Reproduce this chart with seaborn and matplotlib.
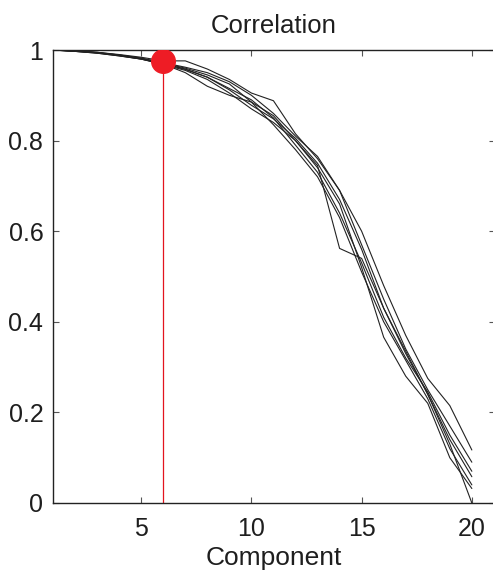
import numpy as np
import pandas as pd
import seaborn as sns
import matplotlib
matplotlib.use("Agg")
import matplotlib.pyplot as plt

# correlation per component, one list per run
components = list(range(1, 21))
run_a = [1.000, .998, .995, .990, .984, .976, .976, .958, .935, .905, .888, .815, .760, .690, .600, .480, .370, .275, .215, .117]
run_b = [1.000, .998, .994, .989, .982, .972, .962, .950, .930, .900, .860, .810, .765, .690, .570, .450, .340, .250, .170, .090]
run_c = [1.000, .997, .994, .988, .981, .970, .958, .940, .915, .890, .850, .790, .730, .640, .530, .410, .320, .245, .150, .070]
run_d = [1.000, .998, .995, .989, .982, .971, .960, .945, .925, .885, .855, .800, .740, .660, .520, .366, .280, .220, .100, .032]
run_e = [1.000, .997, .993, .987, .980, .968, .955, .935, .905, .870, .840, .800, .745, .562, .540, .430, .330, .240, .140, .058]
run_f = [1.000, .998, .994, .988, .980, .969, .950, .920, .900, .885, .835, .780, .720, .630, .510, .400, .315, .230, .120, .040]
run_g = [1.000, .997, .993, .987, .980, .970, .957, .940, .912, .878, .848, .805, .750, .670, .560, .430, .335, .240, .130, .000]
runs = [run_a, run_b, run_c, run_d, run_e, run_f, run_g]

chosen_component = 6
chosen_corr = 0.975

df = pd.DataFrame({
    "component": components * len(runs),
    "corr": np.concatenate(runs),
    "run": np.repeat(np.arange(len(runs)), len(components)),
})

sns.set_theme(style="white")
plt.rcParams["font.family"] = ["Liberation Sans", "DejaVu Sans"]

fig = plt.figure(figsize=(4.93, 5.74), dpi=100)
ax = fig.add_axes([53 / 493, 71 / 574, 442 / 493, 453 / 574])

sns.lineplot(data=df, x="component", y="corr", units="run", estimator=None,
             color="#222222", linewidth=0.8, ax=ax, legend=False)

# marker for the chosen number of components
ax.plot([chosen_component, chosen_component], [0, chosen_corr], color="#e3141e", linewidth=0.9)
ax.plot([chosen_component], [chosen_corr], "o", color="#ee1c25", markersize=17, zorder=5)

ax.set_xlim(1, 21.05)
ax.set_ylim(0, 1)
ax.set_xticks([5, 10, 15, 20])
ax.set_yticks([0, 0.2, 0.4, 0.6, 0.8, 1])
ax.set_yticklabels(["0", "0.2", "0.4", "0.6", "0.8", "1"])
ax.tick_params(direction="in", length=4, width=0.8, color="#555555",
               top=True, right=True, bottom=True, left=True,
               labelsize=18, labelcolor="#1e1e1e")
ax.tick_params(axis="x", pad=10)
ax.tick_params(axis="y", pad=7)
for side in ["left", "bottom", "top", "right"]:
    ax.spines[side].set_color("#222222")
    ax.spines[side].set_linewidth(1.0)

ax.set_title("Correlation", fontsize=18.5, color="#1e1e1e", pad=12)
ax.set_xlabel("Component", fontsize=19, color="#1e1e1e", labelpad=4)
ax.set_ylabel("")

fig.savefig("out.png", dpi=100, facecolor="white")
